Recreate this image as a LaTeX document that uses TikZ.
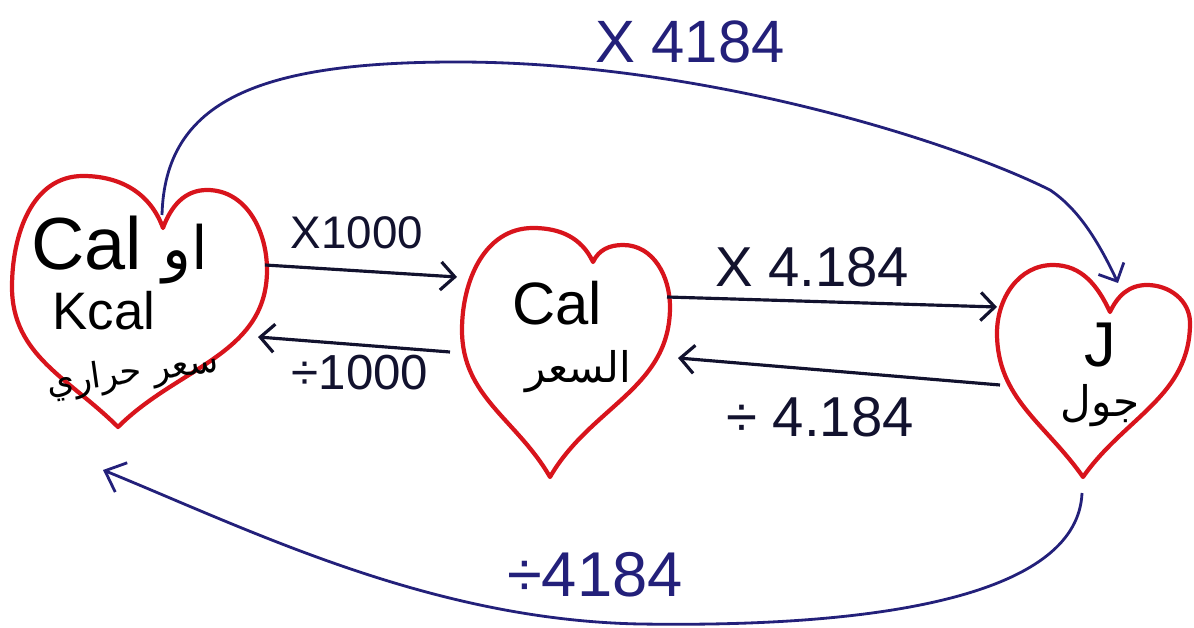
\documentclass[tikz,border=0pt]{standalone}
\usepackage{fontspec}
\setmainfont{Liberation Sans}
\newfontfamily\arabicfont[Script=Arabic]{DejaVu Sans}
\TeXXeTstate=1
\usetikzlibrary{arrows.meta, positioning}
\definecolor{HeartRed}{HTML}{D8141C}
\definecolor{InkBlue}{HTML}{23207A}
\definecolor{InkNavy}{HTML}{12122E}

\begin{document}
\begin{tikzpicture}[
    x=0.01cm, y=0.01cm,
    >={Straight Barb[length=4pt,width=8pt]},
    heart/.style={
        draw=HeartRed,
        line width=1.2pt,
        line join=round
    },
    conv/.style={
        draw=InkNavy,
        line width=0.9pt,
        ->
    },
    longconv/.style={
        draw=InkBlue,
        line width=0.8pt,
        ->
    },
    factor/.style={
        text=InkNavy,
        font=\fontsize{14}{16}\selectfont,
        inner sep=1pt
    },
    bigfactor/.style={
        text=InkBlue,
        font=\fontsize{17}{19}\selectfont,
        inner sep=1pt
    },
    unitlabel/.style={
        text=black,
        inner sep=0pt
    }
]
\useasboundingbox (0,0) rectangle (1194,-628);

% Hearts
\draw[heart] (163,-228) coordinate (kcal-dip)
    to[out=110,in=0] (83,-176)
    to[out=180,in=90] (12,-287)
    to[out=-90,in=135] (118,-427) coordinate (kcal-tip)
    to[out=45,in=-90] (267,-270)
    to[out=90,in=0] (207,-190)
    to[out=180,in=70] cycle;

\draw[heart] (593,-262) coordinate (cal-dip)
    to[out=115,in=0] (533,-228)
    to[out=180,in=90] (462,-330)
    to[out=-90,in=120] (550,-477) coordinate (cal-tip)
    to[out=60,in=-90] (670,-307)
    to[out=90,in=0] (623,-245)
    to[out=180,in=65] cycle;

\draw[heart] (1110,-312) coordinate (j-dip)
    to[out=115,in=0] (1053,-265)
    to[out=180,in=90] (997,-333)
    to[out=-90,in=125] (1083,-477) coordinate (j-tip)
    to[out=55,in=-90] (1190,-323)
    to[out=90,in=0] (1147,-285)
    to[out=180,in=65] cycle;

% Units
\node[unitlabel, font=\fontsize{21}{23}\selectfont] (kcal-cal) at (120,-250) {Cal {\arabicfont\fontsize{17}{19}\selectfont\beginR او\endR}};
\node[unitlabel, font=\fontsize{15}{17}\selectfont] (kcal-k) at (104,-311) {Kcal};
\node[unitlabel, font=\arabicfont\fontsize{10}{12}\selectfont, rotate=8] (kcal-ar) at (133,-374) {\beginR سعر حراري\endR};

\node[unitlabel, font=\fontsize{17}{19}\selectfont] (cal-en) at (557,-303) {Cal};
\node[unitlabel, font=\arabicfont\fontsize{12}{14}\selectfont] (cal-ar) at (578,-372) {\beginR السعر\endR};

\node[unitlabel, font=\fontsize{18}{20}\selectfont] (j-en) at (1100,-345) {J};
\node[unitlabel, font=\arabicfont\fontsize{12}{14}\selectfont] (j-ar) at (1100,-406) {\beginR جول\endR};

% Attach points
\coordinate (kcal-out) at (265,-265);
\coordinate (kcal-in) at (258,-337);
\coordinate (cal-in-l) at (457,-277);
\coordinate (cal-out-l) at (450,-352);
\coordinate (cal-out-r) at (667,-297);
\coordinate (cal-in-r) at (678,-358);
\coordinate (j-in-l) at (997,-307);
\coordinate (j-out-l) at (1000,-385);
\coordinate (kcal-top) at (162,-215);
\coordinate (j-top) at (1118,-283);
\coordinate (j-bot) at (1082,-493);
\coordinate (kcal-bot) at (103,-470);

% Short conversions
\draw[conv] (kcal-out) -- (cal-in-l);
\draw[conv] (cal-out-l) -- (kcal-in);
\draw[conv] (cal-out-r) -- (j-in-l);
\draw[conv] (j-out-l) -- (cal-in-r);

\node[factor, font=\fontsize{13}{15}\selectfont] (f-x1000) at (357,-233) {X1000};
\node[factor] (f-d1000) at (360,-373) {÷1000};
\node[factor, font=\fontsize{16}{18}\selectfont] (f-x4184) at (812,-267) {X 4.184};
\node[factor, font=\fontsize{16}{18}\selectfont] (f-d4184) at (820,-417) {÷ 4.184};

% Long conversions
\draw[longconv] (kcal-top) .. controls (165,-100) and (260,-62) .. (457,-62)
    .. controls (700,-62) and (950,-140) .. (1050,-190)
    .. controls (1080,-210) and (1100,-245) .. (j-top);
\draw[longconv, >={Straight Barb[length=5pt,width=9pt]}] (j-bot) .. controls (1078,-590) and (900,-628) .. (640,-624)
    .. controls (430,-620) and (250,-530) .. (kcal-bot);

\node[bigfactor] (f-top) at (690,-42) {X 4184};
\node[bigfactor, font=\fontsize{18}{20}\selectfont] (f-bot) at (595,-575) {÷4184};

\end{tikzpicture}
\end{document}
